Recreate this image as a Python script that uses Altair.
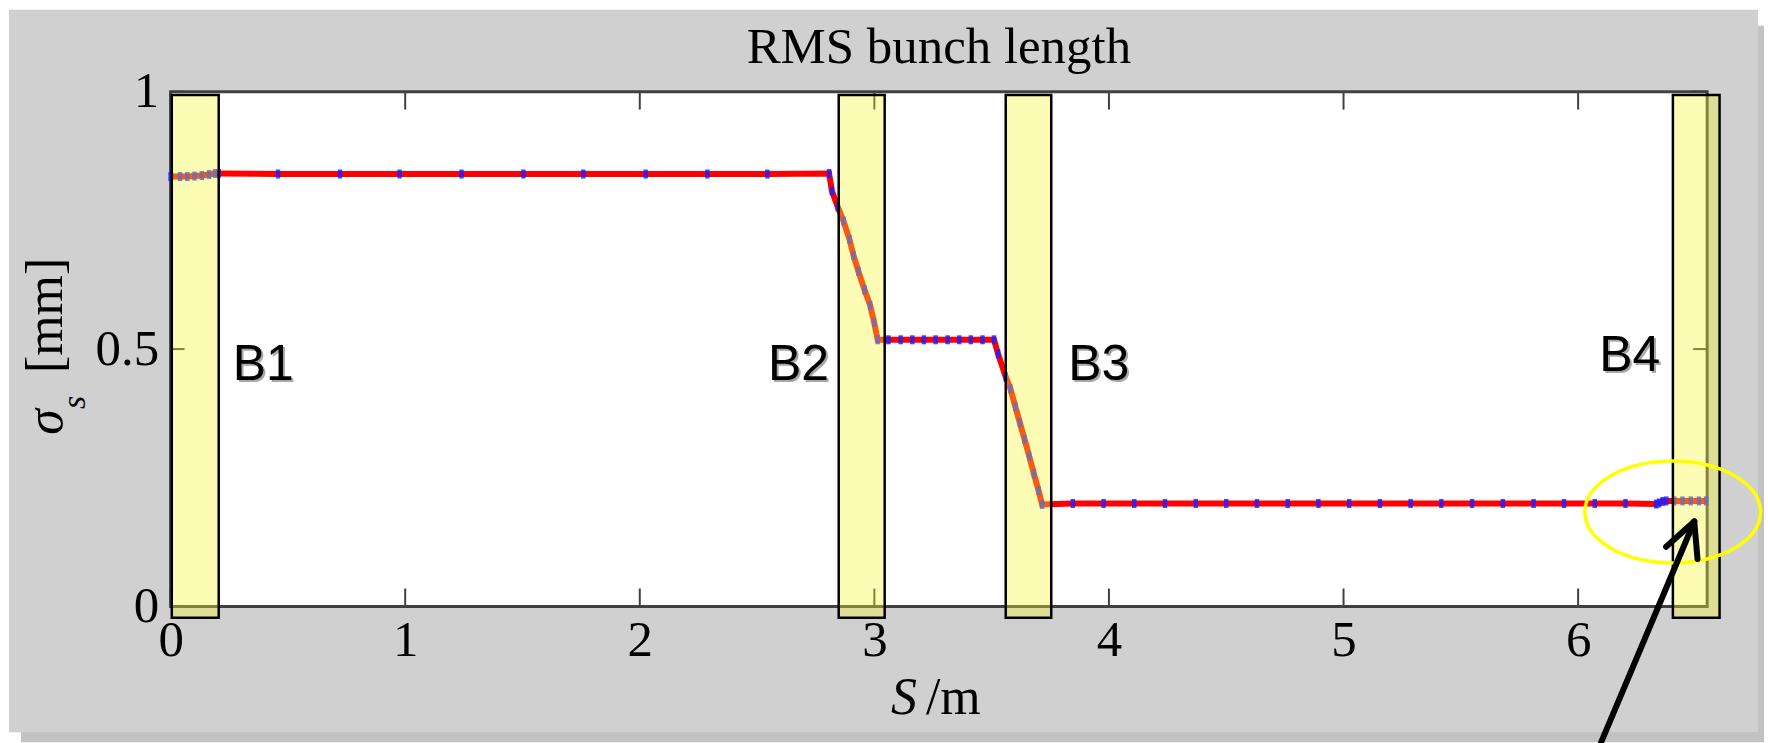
import altair as alt
import pandas as pd

# ---------------- data ----------------
s_m = [0.0, 0.04, 0.071, 0.102, 0.133, 0.164, 0.19, 0.205,
       0.458, 0.722, 0.976, 1.24, 1.504, 1.759, 2.025, 2.288, 2.544, 2.807,
       2.819, 2.844, 2.868, 2.894, 2.911, 2.932, 2.958, 2.982, 2.999, 3.014,
       3.060, 3.112, 3.162, 3.211, 3.261, 3.312, 3.362, 3.411, 3.461, 3.510,
       3.527, 3.560, 3.580, 3.601, 3.620, 3.640, 3.660, 3.680, 3.700, 3.715,
       3.846, 3.977, 4.108, 4.239, 4.370, 4.500, 4.631, 4.762, 4.893, 5.024,
       5.155, 5.286, 5.417, 5.548, 5.679, 5.810, 5.940, 6.071, 6.202, 6.333,
       6.345, 6.360, 6.376, 6.410, 6.445, 6.480, 6.515, 6.546]
sigma_mm = [0.835, 0.835, 0.835, 0.836, 0.837, 0.839, 0.841, 0.841,
            0.84, 0.84, 0.84, 0.84, 0.84, 0.84, 0.84, 0.84, 0.84, 0.841,
            0.807, 0.776, 0.749, 0.713, 0.682, 0.651, 0.615, 0.585, 0.552, 0.518,
            0.518, 0.518, 0.518, 0.518, 0.518, 0.518, 0.518, 0.518, 0.518, 0.518,
            0.491, 0.446, 0.423, 0.388, 0.357, 0.325, 0.292, 0.258, 0.225, 0.198,
            0.2, 0.2, 0.2, 0.2, 0.2, 0.2, 0.2, 0.2, 0.2, 0.2,
            0.2, 0.2, 0.2, 0.2, 0.2, 0.2, 0.2, 0.2, 0.2, 0.199,
            0.201, 0.204, 0.205, 0.205, 0.205, 0.205, 0.205, 0.205]

x_ticks = [0, 1, 2, 3, 4, 5, 6]
y_ticks = [0, 0.5, 1]

band_names = ["B1", "B2", "B3", "B4"]
band_start = [0.005, 2.848, 3.560, 6.404]
band_end = [0.205, 3.044, 3.754, 6.603]
band_bottom = [-0.022, -0.022, -0.022, -0.022]
band_top = [0.9936, 0.9936, 0.9936, 0.9936]
label_x = [0.265, 2.547, 3.826, 6.09]
label_y = [0.439, 0.439, 0.439, 0.458]

ellipse_x = [6.403]
ellipse_y = [0.1835]

arrow_x = [6.098, 6.375, 6.509]
arrow_y = [-0.264, 0.116, 0.092]
arrow_x2 = [6.495, 6.495, 6.495]
arrow_y2 = [0.165, 0.165, 0.165]

# ---------------- layout ----------------
W, H = 1540, 516
SERIF = "Liberation Serif"

xs = alt.Scale(domain=[0, 6.55], nice=False, zero=False)
ys = alt.Scale(domain=[0, 1], nice=False, zero=False)

ax_x = alt.Axis(values=x_ticks, format="d", title=None, domain=False, ticks=False,
                tickSize=0, grid=False, labelFont=SERIF, labelFontSize=51,
                labelColor="black", labelPadding=9, labelFlush=False,
                labelOverlap=False, zindex=1)
ax_y = alt.Axis(values=y_ticks, format="~g", title=None, domain=False, ticks=False,
                tickSize=0, grid=False, labelFont=SERIF, labelFontSize=51,
                labelColor="black", labelPadding=12, labelFlush=False,
                labelOverlap=False, zindex=1)


def X(f):
    return alt.X(f, type="quantitative", scale=xs, axis=ax_x)


def Y(f):
    return alt.Y(f, type="quantitative", scale=ys, axis=ax_y)


one = pd.DataFrame({"k": [0]})

page = alt.Chart(one).mark_rect(color="white").encode(
    x=alt.value(-171), x2=alt.value(1597), y=alt.value(-91), y2=alt.value(652))
shadow = alt.Chart(one).mark_rect(color="#c2c2c2").encode(
    x=alt.value(-150), x2=alt.value(1597), y=alt.value(-66), y2=alt.value(652))
panel = alt.Chart(one).mark_rect(color="#d0d0d0").encode(
    x=alt.value(-162), x2=alt.value(1591), y=alt.value(-82), y2=alt.value(642))
plot_bg = alt.Chart(one).mark_rect(fill="white", stroke="#404040", strokeWidth=3).encode(
    x=alt.value(0), x2=alt.value(W), y=alt.value(0), y2=alt.value(H))

xt = pd.DataFrame({"t": x_ticks})
yt = pd.DataFrame({"t": y_ticks})
tick_style = dict(color="#404040", strokeWidth=2)
tick_bottom = alt.Chart(xt).mark_rule(**tick_style).encode(
    x=X("t"), y=alt.value(H), y2=alt.value(H - 18))
tick_top = alt.Chart(xt).mark_rule(**tick_style).encode(
    x=X("t"), y=alt.value(0), y2=alt.value(18))
tick_left = alt.Chart(yt).mark_rule(**tick_style).encode(
    y=Y("t"), x=alt.value(0), x2=alt.value(14))
tick_right = alt.Chart(yt).mark_rule(**tick_style).encode(
    y=Y("t"), x=alt.value(W), x2=alt.value(W - 14))

df = pd.DataFrame({"s": s_m, "sigma": sigma_mm})
line = alt.Chart(df).mark_line(color="#ff0000", strokeWidth=6).encode(
    x=X("s"), y=Y("sigma"))
dots = alt.Chart(df).mark_point(
    shape="M-0.5,-1L0.5,-1L0.5,1L-0.5,1Z", filled=True, size=81,
    color="#2020ff", opacity=0.85).encode(x=X("s"), y=Y("sigma"))

bands_df = pd.DataFrame({"x0": band_start, "x1": band_end,
                         "yb": band_bottom, "yt": band_top})
bands = alt.Chart(bands_df).mark_rect(
    fill="#f7f72f", fillOpacity=0.36, stroke="black", strokeWidth=2.5,
    strokeOpacity=1).encode(x=X("x0"), x2="x1", y=Y("yb"), y2="yt")

lab_df = pd.DataFrame({"name": band_names, "lx": label_x, "ly": label_y})
lab_shadow = alt.Chart(lab_df).mark_text(
    font="Liberation Sans", fontSize=50, align="left", baseline="alphabetic",
    color="#a8a8a8", dx=2, dy=2).encode(x=X("lx"), y=Y("ly"), text="name:N")
labels = alt.Chart(lab_df).mark_text(
    font="Liberation Sans", fontSize=50, align="left", baseline="alphabetic",
    color="black").encode(x=X("lx"), y=Y("ly"), text="name:N")

ell_df = pd.DataFrame({"ex": ellipse_x, "ey": ellipse_y})
ellipse = alt.Chart(ell_df).mark_point(
    shape="M-1,0A1,0.58,0,1,1,1,0A1,0.58,0,1,1,-1,0Z", filled=False,
    size=30976, color="#ffff00", strokeWidth=3.5, opacity=1).encode(
    x=X("ex"), y=Y("ey"))

arr_df = pd.DataFrame({"ax": arrow_x, "ay": arrow_y, "ax2": arrow_x2, "ay2": arrow_y2})
arrow = alt.Chart(arr_df).mark_rule(color="black", strokeWidth=6, strokeCap="round").encode(
    x=X("ax"), y=Y("ay"), x2="ax2", y2="ay2")


def txt(s, x, y, size=48, style="normal", angle=0):
    kw = dict(font=SERIF, fontSize=size, fontStyle=style, align="left",
              baseline="alphabetic", color="black")
    if angle:
        kw["angle"] = angle
    return alt.Chart(pd.DataFrame({"t": [s]})).mark_text(**kw).encode(
        x=alt.value(x), y=alt.value(y), text="t:N")


title = alt.Chart(pd.DataFrame({"t": ["RMS bunch length"]})).mark_text(
    font=SERIF, fontSize=51, align="center", baseline="alphabetic", color="black"
).encode(x=alt.value(W / 2), y=alt.value(-29), text="t:N")

ytitle_sigma = txt("σ", -109, 344, 52, "italic", 270)
ytitle_sub = txt("s", -86, 318, 34, "italic", 270)
ytitle_unit = txt("[mm]", -109, 282, 52, "normal", 270)
xtitle_s = txt("S", 722, 624, 52, "italic")
xtitle_unit = txt("/m", 757, 624, 52, "normal")

chart = alt.layer(
    page, shadow, panel, plot_bg,
    tick_bottom, tick_top, tick_left, tick_right,
    line, dots, bands, lab_shadow, labels, ellipse, arrow,
    title, ytitle_sigma, ytitle_sub, ytitle_unit, xtitle_s, xtitle_unit,
).properties(
    width=W, height=H, padding=0, background="white"
).configure_view(stroke=None)

chart.save("out.html", embed_options={"renderer": "svg", "actions": False})
